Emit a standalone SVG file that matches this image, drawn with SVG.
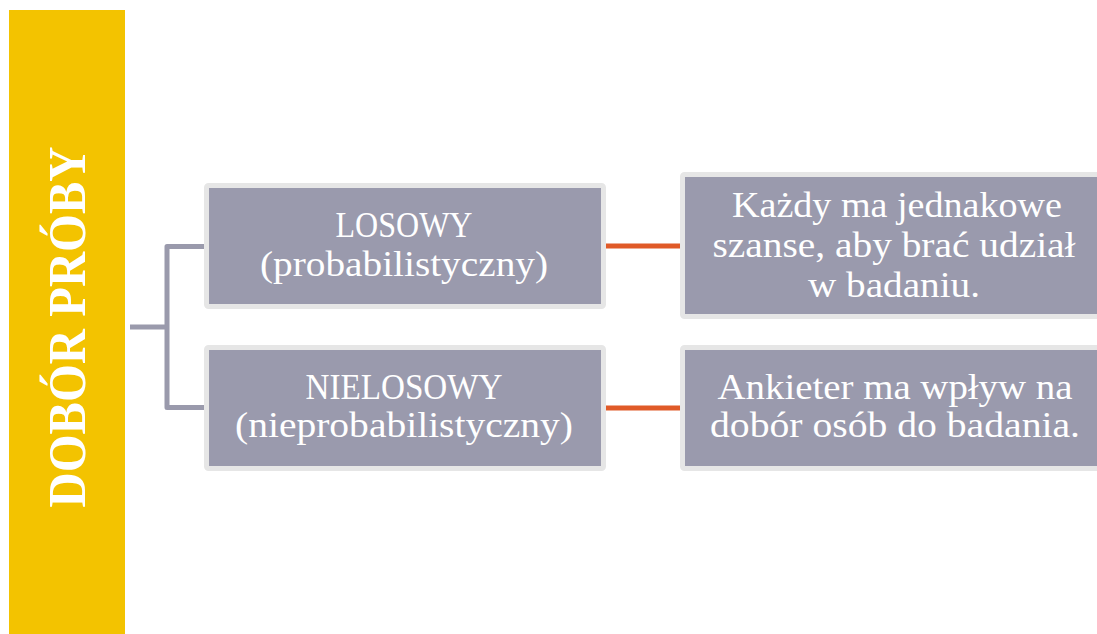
<svg xmlns="http://www.w3.org/2000/svg" width="1097" height="634" viewBox="0 0 1097 634">
<style>
.box{fill:#9A9AAD;stroke:#E6E6E6;stroke-width:5}
.t{font-family:"Liberation Serif","DejaVu Serif",serif;font-size:36px;fill:#FFFFFF;text-anchor:middle}
.tree{fill:none;stroke:#9A9AAC;stroke-width:5;stroke-linejoin:round}
.link{stroke:#E05A28;stroke-width:5}
</style>
<rect width="1097" height="634" fill="#FFFFFF"/>
<g id="title">
<rect x="9" y="10" width="116" height="630" fill="#F3C300"/>
<text transform="translate(85,327) rotate(-90)" font-family="Liberation Serif, DejaVu Serif, serif" font-weight="bold" font-size="52" fill="#FFFFFF" text-anchor="middle" textLength="361" lengthAdjust="spacingAndGlyphs">DOBÓR PRÓBY</text>
</g>
<g id="connectors">
<path class="tree" d="M130,327 H167"/>
<path class="tree" d="M205,246.5 H167 V407.5 H205"/>
<line class="link" x1="606" y1="246" x2="682" y2="246"/>
<line class="link" x1="606" y1="408" x2="682" y2="408"/>
</g>
<g id="losowy">
<rect class="box" x="206.5" y="185.5" width="397" height="121" rx="2"/>
<text class="t" x="404" y="237" textLength="137" lengthAdjust="spacingAndGlyphs">LOSOWY</text>
<text class="t" x="404" y="276" textLength="288" lengthAdjust="spacingAndGlyphs">(probabilistyczny)</text>
</g>
<g id="nielosowy">
<rect class="box" x="206.5" y="347.5" width="397" height="121" rx="2"/>
<text class="t" x="404" y="399" textLength="197" lengthAdjust="spacingAndGlyphs">NIELOSOWY</text>
<text class="t" x="404" y="437" textLength="338" lengthAdjust="spacingAndGlyphs">(nieprobabilistyczny)</text>
</g>
<g id="opis-losowy">
<rect class="box" x="682.5" y="174.5" width="430" height="142" rx="2"/>
<text class="t" x="897" y="217" textLength="330" lengthAdjust="spacingAndGlyphs">Każdy ma jednakowe</text>
<text class="t" x="894" y="257" textLength="363" lengthAdjust="spacingAndGlyphs">szanse, aby brać udział</text>
<text class="t" x="894" y="297" textLength="172" lengthAdjust="spacingAndGlyphs">w badaniu.</text>
</g>
<g id="opis-nielosowy">
<rect class="box" x="682.5" y="347.5" width="430" height="121" rx="2"/>
<text class="t" x="895" y="399" textLength="355" lengthAdjust="spacingAndGlyphs">Ankieter ma wpływ na</text>
<text class="t" x="895" y="437" textLength="370" lengthAdjust="spacingAndGlyphs">dobór osób do badania.</text>
</g>
</svg>
